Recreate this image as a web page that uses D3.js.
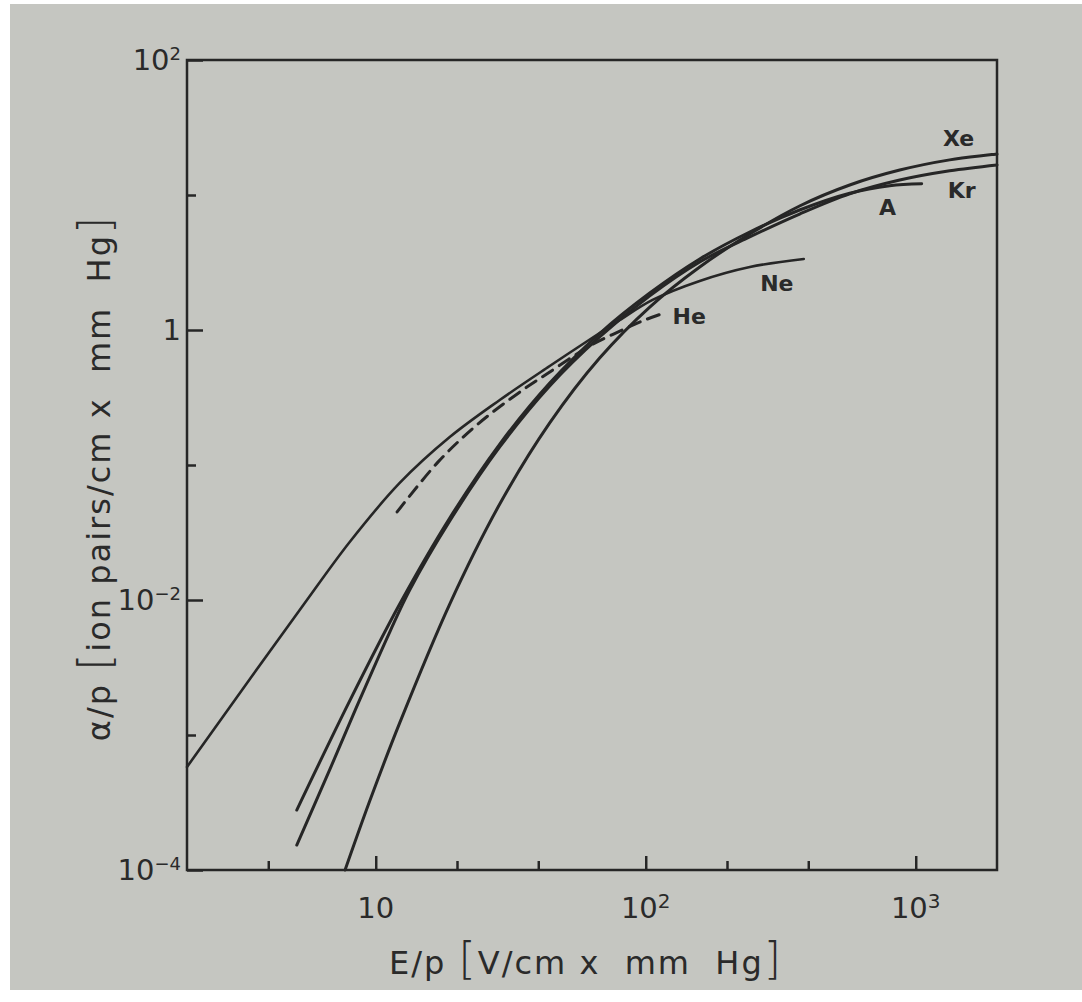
<!DOCTYPE html>
<html>
<head>
<meta charset="utf-8">
<script src="https://cdn.jsdelivr.net/npm/d3@7"></script>
<style>
  body { margin: 0; background: #fff; }
  svg text { font-family: "DejaVu Sans", sans-serif; fill: #2a2a2a; }
</style>
</head>
<body>
<div id="chart"></div>
<script>
// E/p in V/cm x mm Hg, alpha/p in ion pairs/cm x mm Hg
var xeE = [7.7, 9.5, 12.27, 18.8, 28.8, 44.1, 67.5, 103.5, 158.5, 242.7, 371.5, 569.6, 872.6, 1336, 2000];
var xeAlpha = [1.0e-4, 3.24e-4, 1.23e-3, 9.34e-3, 0.0514, 0.205, 0.62, 1.48, 2.93, 5.14, 8.29, 11.86, 15.3, 18.2, 20.1];

var krE = [5.1, 6.75, 8.72, 11.27, 13.36, 18.8, 28.8, 44.1, 67.5, 103.5, 158.5, 242.7, 371.5, 569.6, 872.6, 1336, 2000];
var krAlpha = [1.53e-4, 5.51e-4, 1.82e-3, 5.79e-3, 0.01186, 0.0385, 0.136, 0.385, 0.888, 1.79, 3.19, 4.89, 7.23, 10.2, 12.9, 15.1, 16.7];

var arE = [5.1, 8.01, 12.27, 18.8, 28.8, 44.1, 67.5, 103.5, 158.5, 242.7, 371.5, 569.6, 801, 1052];
var arAlpha = [2.78e-4, 1.79e-3, 9.34e-3, 0.0405, 0.143, 0.405, 0.942, 1.88, 3.36, 5.32, 7.74, 10.3, 11.7, 12.1];

var neE = [2.0, 3.42, 5.46, 8.01, 12.27, 18.8, 28.8, 44.1, 67.5, 80.2, 106, 158.5, 243, 385];
var neAlpha = [5.8e-4, 2.6e-3, 9.5e-3, 0.0269, 0.0736, 0.161, 0.303, 0.541, 0.95, 1.186, 1.67, 2.31, 2.93, 3.36];

var heE = [12.0, 17.0, 23.9, 35.0, 43.0, 62.0, 78.8, 97.5, 117.5];
var heAlpha = [0.0449, 0.105, 0.201, 0.359, 0.472, 0.761, 0.966, 1.17, 1.34];

// curve labels, anchored in data units
var gasNames = ["Xe", "Kr", "A", "Ne", "He"];
var labelE = [1442, 1479, 787, 306, 145];
var labelAlpha = [26.4, 10.9, 8.15, 2.23, 1.27];

// ticks
var xMajor = [10, 100, 1000];
var xMinor = [4, 20, 40, 200, 400];
var yMajor = [1e-4, 1e-2, 1, 1e2];
var yMinor = [1e-3, 1e-1, 10];
var xTickText = [["10", ""], ["10", "2"], ["10", "3"]];
var yTickText = [["10", "\u22124"], ["10", "\u22122"], ["1", ""], ["10", "2"]];

var W = 1082, H = 1002;
var margin = {left: 187, right: 997, top: 60, bottom: 870};

var svg = d3.select("#chart")
  .append("svg")
    .attr("width", W)
    .attr("height", H);

// photo paper
svg.append("rect")
  .attr("x", 10).attr("y", 4)
  .attr("width", W - 10).attr("height", 986)
  .attr("fill", "#c5c6c1");

var x = d3.scaleLog().domain([2, 2000]).range([margin.left, margin.right]);
var y = d3.scaleLog().domain([1e-4, 1e2]).range([margin.bottom, margin.top]);

function pair(es, as) {
  return es.map(function(e, i) { return {e: e, a: as[i]}; });
}

var line = d3.line()
  .x(function(d) { return x(d.e); })
  .y(function(d) { return y(d.a); })
  .curve(d3.curveCatmullRom.alpha(0.5));

var ink = "#262626";

// x axis ticks (inward)
var gx = svg.append("g")
  .attr("transform", "translate(0," + margin.bottom + ")")
  .call(d3.axisBottom(x).tickValues(xMajor).tickSize(-14).tickFormat(""));
gx.append("g").call(d3.axisBottom(x).tickValues(xMinor).tickSize(-9).tickFormat(""));
gx.selectAll(".domain").remove();
gx.selectAll("line").attr("stroke", ink).attr("stroke-width", 2.5);

gx.selectAll("text.lbl")
  .data(xMajor)
  .enter().append("text")
    .attr("class", "lbl")
    .attr("x", function(d) { return x(d); })
    .attr("y", 48)
    .attr("text-anchor", "middle")
    .style("font-size", "29px")
    .each(function(d, i) {
      var t = d3.select(this);
      t.append("tspan").text(xTickText[i][0]);
      if (xTickText[i][1]) {
        t.append("tspan").attr("dy", "-0.5em").style("font-size", "20px").text(xTickText[i][1]);
      }
    });

// y axis ticks (inward)
var gy = svg.append("g")
  .attr("transform", "translate(" + margin.left + ",0)")
  .call(d3.axisLeft(y).tickValues(yMajor).tickSize(-16).tickFormat(""));
gy.append("g").call(d3.axisLeft(y).tickValues(yMinor).tickSize(-9).tickFormat(""));
gy.selectAll(".domain").remove();
gy.selectAll("line").attr("stroke", ink).attr("stroke-width", 2.5);

gy.selectAll("text.lbl")
  .data(yMajor)
  .enter().append("text")
    .attr("class", "lbl")
    .attr("x", -6)
    .attr("y", function(d) { return y(d) + 10; })
    .attr("text-anchor", "end")
    .style("font-size", "29px")
    .each(function(d, i) {
      var t = d3.select(this);
      t.append("tspan").text(yTickText[i][0]);
      if (yTickText[i][1]) {
        t.append("tspan").attr("dy", "-0.55em").style("font-size", "18px").text(yTickText[i][1]);
      }
    });

// frame
svg.append("rect")
  .attr("x", margin.left).attr("y", margin.top)
  .attr("width", margin.right - margin.left).attr("height", margin.bottom - margin.top)
  .attr("fill", "none")
  .attr("stroke", ink)
  .attr("stroke-width", 2.5);

// curves
var curves = [
  {data: pair(xeE, xeAlpha), w: 3},
  {data: pair(krE, krAlpha), w: 3},
  {data: pair(arE, arAlpha), w: 3},
  {data: pair(neE, neAlpha), w: 2.6},
  {data: pair(heE, heAlpha), w: 3, dash: "12,8"}
];

svg.append("g").selectAll("path")
  .data(curves)
  .enter().append("path")
    .attr("d", function(d) { return line(d.data); })
    .attr("fill", "none")
    .attr("stroke", ink)
    .attr("stroke-width", function(d) { return d.w; })
    .attr("stroke-linecap", "round")
    .attr("stroke-dasharray", function(d) { return d.dash || null; });

// gas labels
svg.append("g").selectAll("text")
  .data(gasNames)
  .enter().append("text")
    .attr("x", function(d, i) { return x(labelE[i]); })
    .attr("y", function(d, i) { return y(labelAlpha[i]); })
    .attr("dy", "0.36em")
    .attr("text-anchor", "middle")
    .style("font-size", "22px")
    .style("font-weight", "bold")
    .text(function(d) { return d; });

// axis titles
var xt = svg.append("text")
  .attr("x", 586)
  .attr("y", 974)
  .attr("text-anchor", "middle")
  .attr("xml:space", "preserve")
  .style("font-size", "32px")
  .style("letter-spacing", "2px");
xt.append("tspan").text("E/p ");
xt.append("tspan").style("font-size", "44px").style("font-weight", "200").text("[");
xt.append("tspan").text("V/cm x  mm  Hg");
xt.append("tspan").style("font-size", "44px").style("font-weight", "200").text("]");

var yt = svg.append("text")
  .attr("transform", "translate(110,478) rotate(-90)")
  .attr("text-anchor", "middle")
  .attr("xml:space", "preserve")
  .style("font-size", "32px")
  .style("letter-spacing", "2px");
yt.append("tspan").text("\u03b1/p ");
yt.append("tspan").style("font-size", "44px").style("font-weight", "200").text("[");
yt.append("tspan").text("ion pairs/cm x  mm  Hg");
yt.append("tspan").style("font-size", "44px").style("font-weight", "200").text("]");
</script>
</body>
</html>
